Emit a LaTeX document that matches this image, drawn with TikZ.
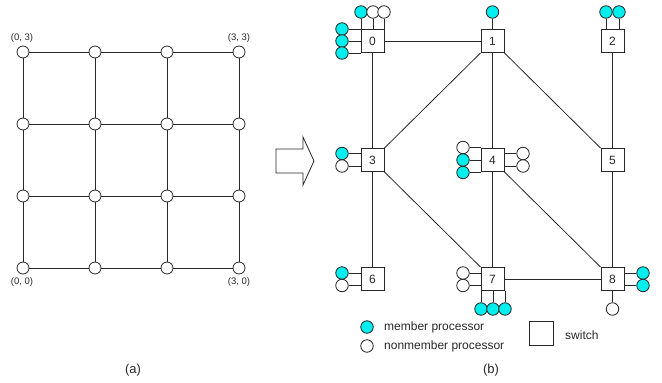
\documentclass[tikz,border=0pt]{standalone}
\usepackage{fontspec}
\setmainfont{Liberation Sans}
\definecolor{member}{RGB}{0,238,238}
\definecolor{ink}{RGB}{40,40,40}

\begin{document}
\begin{tikzpicture}[x=1pt,y=-1pt,
  every node/.style={font=\fontsize{12}{14}\selectfont, text=ink},
  wire/.style={line width=0.8pt, draw=ink},
  switchbox/.style={draw=ink, line width=0.8pt, minimum size=23pt, inner sep=0pt, fill=white},
  proc/.style={circle, draw=ink, line width=0.8pt, minimum size=12.5pt, inner sep=0pt, fill=white},
  memb/.style={proc, fill=member},
  gnode/.style={circle, draw=ink, line width=0.8pt, minimum size=12pt, inner sep=0pt, fill=white},
  coordlabel/.style={font=\fontsize{9.5}{11}\selectfont},
  caption/.style={font=\fontsize{13}{15}\selectfont},
]
\useasboundingbox (0,0) rectangle (662,383);

% ---------- (a) 4x4 mesh ----------
\foreach \i in {0,...,3}
  \foreach \j in {0,...,3}
    \node[gnode] (g\i\j) at ({23+72*\i},{268-72*\j}) {};
\foreach \i in {0,...,3}
  \foreach \j/\k in {0/1,1/2,2/3} {
    \draw[wire] (g\i\j) -- (g\i\k);
    \draw[wire] (g\j\i) -- (g\k\i);
  }
\node[coordlabel] (l03) at (22,38) {(0, 3)};
\node[coordlabel] (l33) at (239,38) {(3, 3)};
\node[coordlabel] (l00) at (22,282) {(0, 0)};
\node[coordlabel] (l30) at (239,282) {(3, 0)};
\node[caption] (capa) at (133,370) {(a)};

% ---------- transformation arrow ----------
\draw[wire, fill=white] (276,149) -- (303,149) -- (303,137) -- (314,161)
  -- (303,185) -- (303,173) -- (276,173) -- cycle;

% ---------- (b) switches ----------
\node[switchbox] (s0) at (372.5,41) {0};
\node[switchbox] (s1) at (492.5,41) {1};
\node[switchbox] (s2) at (612.5,41) {2};
\node[switchbox] (s3) at (372.5,160) {3};
\node[switchbox] (s4) at (492.5,160) {4};
\node[switchbox] (s5) at (612.5,160) {5};
\node[switchbox] (s6) at (372.5,279) {6};
\node[switchbox] (s7) at (492.5,279) {7};
\node[switchbox] (s8) at (612.5,279) {8};

% switch-to-switch links
\draw[wire] (s0) -- (s1);
\draw[wire] (s0) -- (s3);
\draw[wire] (s1) -- (s4);
\draw[wire] (s2) -- (s5);
\draw[wire] (s3) -- (s6);
\draw[wire] (s4) -- (s7);
\draw[wire] (s5) -- (s8);
\draw[wire] (s7) -- (s8);
\draw[wire] (s1.south west) -- (s3.north east);
\draw[wire] (s1.south east) -- (s5.north west);
\draw[wire] (s3.south east) -- (s7.north west);
\draw[wire] (s4.south east) -- (s8.north west);

% ---------- processors ----------
% switch 0
\node[memb] (p0t1) at (361,12) {};
\node[proc] (p0t2) at (373,12) {};
\node[proc] (p0t3) at (384,12) {};
\node[memb] (p0l1) at (342,29) {};
\node[memb] (p0l2) at (342,41) {};
\node[memb] (p0l3) at (342,53) {};
\foreach \p in {p0t1,p0t2,p0t3} \draw[wire] (\p) -- (\p |- s0.north);
\foreach \p in {p0l1,p0l2,p0l3} \draw[wire] (\p) -- (\p -| s0.west);
% switch 1
\node[memb] (p1t1) at (492.5,12) {};
\draw[wire] (p1t1) -- (s1);
% switch 2
\node[memb] (p2t1) at (606,12) {};
\node[memb] (p2t2) at (619,12) {};
\foreach \p in {p2t1,p2t2} \draw[wire] (\p) -- (\p |- s2.north);
% switch 3
\node[memb] (p3l1) at (342,153.5) {};
\node[proc] (p3l2) at (342,166) {};
\foreach \p in {p3l1,p3l2} \draw[wire] (\p) -- (\p -| s3.west);
% switch 4
\node[proc] (p4l1) at (463,147.5) {};
\node[memb] (p4l2) at (463,160) {};
\node[memb] (p4l3) at (463,172.5) {};
\node[proc] (p4r1) at (523,153.5) {};
\node[proc] (p4r2) at (523,166) {};
\foreach \p in {p4l1,p4l2,p4l3} \draw[wire] (\p) -- (\p -| s4.west);
\foreach \p in {p4r1,p4r2} \draw[wire] (\p) -- (\p -| s4.east);
% switch 6
\node[memb] (p6l1) at (342,273) {};
\node[proc] (p6l2) at (342,285.5) {};
\foreach \p in {p6l1,p6l2} \draw[wire] (\p) -- (\p -| s6.west);
% switch 7
\node[proc] (p7l1) at (463,273) {};
\node[proc] (p7l2) at (463,285.5) {};
\node[memb] (p7b1) at (481,309) {};
\node[memb] (p7b2) at (493,309) {};
\node[memb] (p7b3) at (505,309) {};
\foreach \p in {p7l1,p7l2} \draw[wire] (\p) -- (\p -| s7.west);
\foreach \p in {p7b1,p7b2,p7b3} \draw[wire] (\p) -- (\p |- s7.south);
% switch 8
\node[memb] (p8r1) at (643,273) {};
\node[memb] (p8r2) at (643,285.5) {};
\node[proc] (p8b1) at (612.5,309) {};
\foreach \p in {p8r1,p8r2} \draw[wire] (\p) -- (\p -| s8.east);
\draw[wire] (p8b1) -- (s8);

% ---------- legend ----------
\node[memb] (lm) at (367,327) {};
\node[proc] (ln) at (367,346) {};
\node[anchor=west, inner sep=0pt] (lmt) at (384,327) {member processor};
\node[anchor=west, inner sep=0pt] (lnt) at (384,346) {nonmember processor};
\node[switchbox, minimum size=24pt] (ls) at (541,333) {};
\node[anchor=west, inner sep=0pt] (lst) at (565,335) {switch};
\node[caption] (capb) at (491,370) {(b)};
\end{tikzpicture}
\end{document}
